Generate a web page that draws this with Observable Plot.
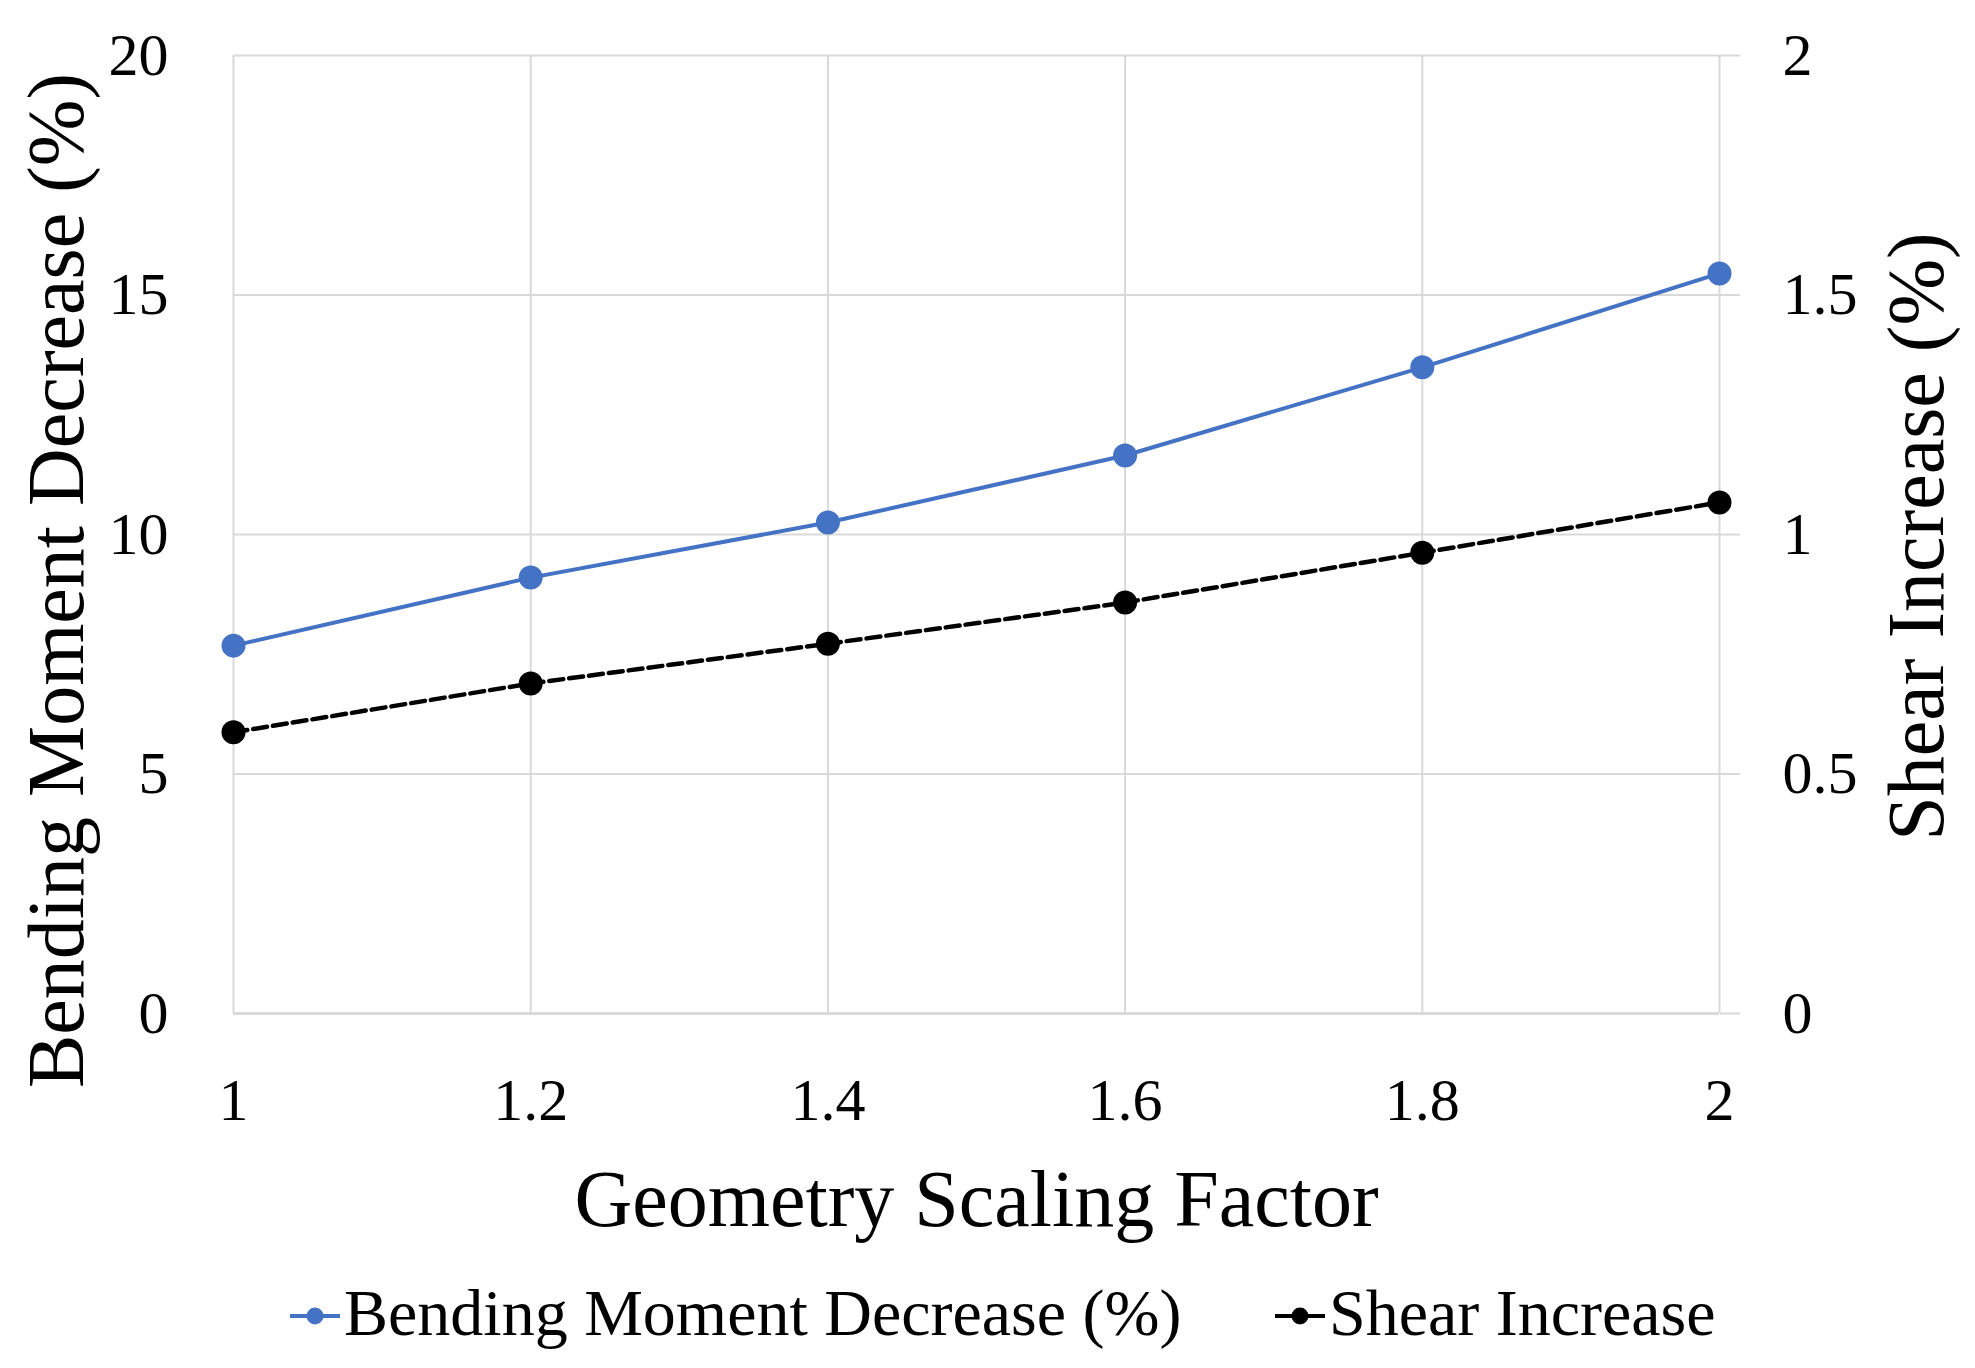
<!DOCTYPE html>
<html>
<head>
<meta charset="utf-8">
<script src="https://cdn.jsdelivr.net/npm/d3@7"></script>
<script src="https://cdn.jsdelivr.net/npm/@observablehq/plot@0.6"></script>
<style>
  html, body { margin: 0; padding: 0; background: #fff; overflow: hidden; }
  #chart { position: relative; width: 1975px; }
  .legend { position: relative; height: 80px; width: 1975px; font-family: "Liberation Serif", serif; font-size: 66px; line-height: 65px; color: #000; }
  .item { position: absolute; top: 0; display: flex; align-items: center; height: 65px; white-space: nowrap; }
  .item svg { display: block; margin-right: 4px; }
</style>
</head>
<body>
<div id="chart"></div>
<script>
// ---- data ----
const scalingFactor = [1, 1.2, 1.4, 1.6, 1.8, 2];
const bendingMomentDecrease = [7.68, 9.10, 10.25, 11.65, 13.49, 15.45]; // left axis (%)
const shearIncrease = [0.587, 0.689, 0.772, 0.858, 0.962, 1.067];        // right axis (%)
const xTicks = [1, 1.2, 1.4, 1.6, 1.8, 2];
const leftTicks = [0, 5, 10, 15, 20];
const rightTicks = [0, 0.5, 1, 1.5, 2];
const seriesNames = ["Bending Moment Decrease (%)", "Shear Increase"];
const xTitle = "Geometry Scaling Factor";
const leftTitle = "Bending Moment Decrease (%)";
const rightTitle = "Shear Increase (%)";

const blue = "#4472C4";
const grid = "#d9d9d9";
const font = "Liberation Serif";
const ratio = 20 / 2; // left domain / right domain

const rows = scalingFactor.map((x, i) => ({
  x,
  bending: bendingMomentDecrease[i],
  shear: shearIncrease[i]
}));

const W = 1975, H = 1280;
const plot = Plot.plot({
  width: W,
  height: H,
  marginLeft: 233,
  marginRight: 256,
  marginTop: 55,
  marginBottom: 267,
  style: { fontFamily: font, fontSize: "60px", color: "#000", background: "#fff", overflow: "visible" },
  x: { domain: [1, 2], ticks: xTicks, label: null },
  y: { domain: [0, 20], ticks: leftTicks, label: null },
  marks: [
    Plot.gridX(xTicks, { stroke: grid, strokeOpacity: 1, strokeWidth: 2 }),
    Plot.gridY(leftTicks.slice(1), { stroke: grid, strokeOpacity: 1, strokeWidth: 2 }),
    Plot.ruleY([0], { stroke: grid, strokeWidth: 3 }),
    // right-hand tick extensions of the gridlines + secondary tick labels
    Plot.axisY(rightTicks.map(v => v * ratio), {
      anchor: "right", tickSize: 20, tickPadding: 43, stroke: grid, strokeWidth: 2,
      fill: "#000", fontSize: 60, tickFormat: d => String(d / ratio), label: null
    }),
    Plot.axisY(leftTicks, { anchor: "left", tickSize: 0, tickPadding: 65, fontSize: 60, label: null }),
    Plot.axisX(xTicks, { anchor: "bottom", tickSize: 0, tickPadding: 64, fontSize: 60, tickFormat: d => String(d), label: null }),
    // series
    Plot.line(rows, { x: "x", y: "bending", stroke: blue, strokeWidth: 4 }),
    Plot.dot(rows, { x: "x", y: "bending", r: 12, fill: blue, stroke: null }),
    Plot.line(rows, { x: "x", y: d => d.shear * ratio, stroke: "#000", strokeWidth: 4.5, strokeDasharray: "14,6" }),
    Plot.dot(rows, { x: "x", y: d => d.shear * ratio, r: 12, fill: "#000", stroke: null }),
    // titles
    Plot.text([xTitle], { frameAnchor: "bottom", text: d => d, dy: 212, lineAnchor: "bottom", textAnchor: "middle", fontSize: 80, fill: "#000" }),
    Plot.text([leftTitle], { frameAnchor: "left", text: d => d, rotate: -90, dx: -151, dy: 46, lineAnchor: "bottom", textAnchor: "middle", fontSize: 80, fill: "#000" }),
    Plot.text([rightTitle], { frameAnchor: "right", text: d => d, rotate: -90, dx: 223, dy: 2, lineAnchor: "bottom", textAnchor: "middle", fontSize: 80, fill: "#000" })
  ]
});
document.getElementById("chart").appendChild(plot);

// ---- legend (HTML, below the SVG) ----
const legend = document.createElement("div");
legend.className = "legend";
const legendItems = [
  { name: seriesNames[0], color: blue, left: 290 },
  { name: seriesNames[1], color: "#000", left: 1275 }
];
legendItems.forEach(it => {
  const item = document.createElement("div");
  item.className = "item";
  item.style.left = it.left + "px";
  item.innerHTML =
    `<svg width="50" height="65" viewBox="0 0 50 65">` +
    `<line x1="0" x2="50" y1="36" y2="36" stroke="${it.color}" stroke-width="4"/>` +
    `<circle cx="25" cy="36" r="8.5" fill="${it.color}"/></svg>` +
    `<span>${it.name}</span>`;
  legend.appendChild(item);
});
document.body.appendChild(legend);
</script>
</body>
</html>
